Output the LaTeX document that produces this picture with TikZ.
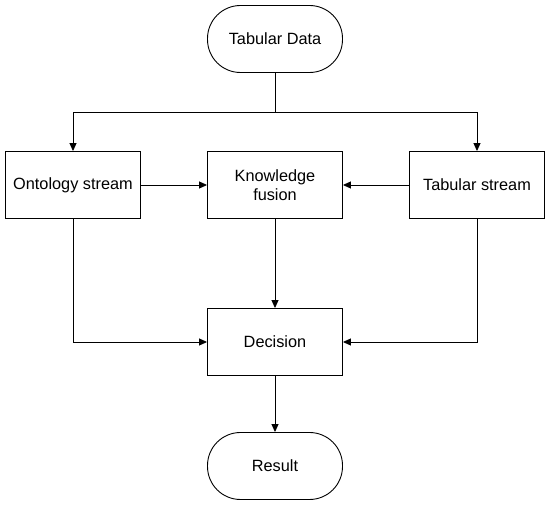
\documentclass[tikz,border=0pt]{standalone}
\usepackage{fontspec}
\setmainfont{Liberation Sans}
\usetikzlibrary{arrows.meta}
\begin{document}
\begin{tikzpicture}[x=1pt,y=-1pt,
  box/.style={draw, line width=0.9pt, minimum width=135pt, minimum height=67pt, inner sep=0pt, font=\fontsize{16.3}{19.5}\selectfont, align=center},
  pill/.style={box, rounded corners=33pt},
  arr/.style={-{Triangle[length=8pt,width=7pt]}, line width=0.9pt},
  ln/.style={line width=0.9pt}]
\useasboundingbox (0,0) rectangle (550,505);
\node[pill] (td) at (275,39) {Tabular Data};
\node[box] (os) at (73,185) {Ontology stream};
\node[box] (kf) at (275,185) {Knowledge\\fusion};
\node[box] (ts) at (477,185) {Tabular stream};
\node[box] (dec) at (275,342) {Decision};
\node[pill] (res) at (275,466) {Result};
\coordinate (j) at (275,112);
\coordinate (jl) at (73,112);
\coordinate (jr) at (477,112);
\draw[ln] (td.south) -- (j);
\draw[arr] (j) -- (jl) -- (os.north);
\draw[arr] (j) -- (jr) -- (ts.north);
\draw[arr] (os) -- (kf);
\draw[arr] (ts) -- (kf);
\draw[arr] (kf) -- (dec);
\draw[arr] (os.south) |- (dec.west);
\draw[arr] (ts.south) |- (dec.east);
\draw[arr] (dec) -- (res);
\end{tikzpicture}
\end{document}
